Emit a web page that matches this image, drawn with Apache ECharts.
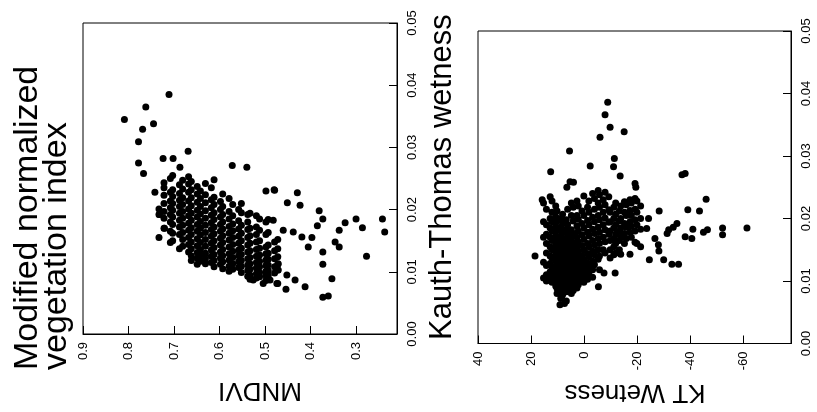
<!DOCTYPE html>
<html><head><meta charset="utf-8">
<script src="https://cdn.jsdelivr.net/npm/echarts@6/dist/echarts.min.js"></script>
<style>html,body{margin:0;padding:0;background:#fff}#c{width:817px;height:412px}</style>
</head><body><div id="c"></div>
<script>
// ---------- data ----------
const mndviTicks = [0.9, 0.8, 0.7, 0.6, 0.5, 0.4, 0.3];
const ktTicks = [40, 20, 0, -20, -40, -60];

// left plot: MNDVI columns and the rate values seen in each column
const mndviCols = [0.733,0.722,0.708,0.703,0.688,0.681,0.668,0.662,0.649,0.642,0.631,0.618,0.612,0.598,0.593,0.579,0.571,0.558,0.552,0.538,0.533,0.519,0.512,0.498,0.493,0.479,0.472];
const mndviRates = [
 [0.0192,0.0201,0.0155],
 [0.0235,0.0223,0.0210,0.0197,0.0186,0.0170,0.0243],
 [0.0228,0.0214,0.0203,0.0192,0.0180,0.0165,0.0147,0.0250],
 [0.0232,0.0221,0.0210,0.0199,0.0188,0.0176,0.0162,0.0150,0.0255],
 [0.0240,0.0226,0.0215,0.0205,0.0194,0.0183,0.0172,0.0160,0.0137],
 [0.0247,0.0233,0.0219,0.0208,0.0197,0.0186,0.0175,0.0163,0.0152,0.0141],
 [0.0253,0.0241,0.0228,0.0214,0.0201,0.0190,0.0178,0.0167,0.0155,0.0144,0.0132],
 [0.0245,0.0232,0.0219,0.0206,0.0194,0.0183,0.0171,0.0160,0.0148,0.0137,0.0126,0.0118],
 [0.0237,0.0225,0.0212,0.0199,0.0188,0.0176,0.0165,0.0153,0.0142,0.0131,0.0122,0.0112],
 [0.0230,0.0218,0.0205,0.0193,0.0181,0.0170,0.0159,0.0147,0.0136,0.0127,0.0117],
 [0.0242,0.0224,0.0211,0.0198,0.0186,0.0175,0.0163,0.0152,0.0141,0.0130,0.0121,0.0113],
 [0.0235,0.0216,0.0203,0.0191,0.0179,0.0168,0.0157,0.0146,0.0135,0.0125,0.0115],
 [0.0248,0.0220,0.0208,0.0195,0.0184,0.0172,0.0161,0.0150,0.0139,0.0128,0.0118,0.0108],
 [0.0213,0.0200,0.0188,0.0176,0.0165,0.0154,0.0143,0.0132,0.0122,0.0112],
 [0.0225,0.0205,0.0192,0.0180,0.0169,0.0158,0.0147,0.0136,0.0126,0.0116,0.0105],
 [0.0218,0.0197,0.0185,0.0173,0.0162,0.0151,0.0140,0.0129,0.0119,0.0109,0.0101],
 [0.0208,0.0190,0.0177,0.0166,0.0155,0.0144,0.0133,0.0123,0.0113,0.0104],
 [0.0200,0.0182,0.0169,0.0157,0.0146,0.0135,0.0126,0.0116,0.0107],
 [0.0210,0.0195,0.0175,0.0162,0.0150,0.0138,0.0128,0.0118,0.0109,0.0099],
 [0.0192,0.0180,0.0168,0.0155,0.0143,0.0132,0.0121,0.0111,0.0102,0.0093],
 [0.0194,0.0170,0.0158,0.0146,0.0134,0.0123,0.0113,0.0104,0.0095,0.0088],
 [0.0190,0.0172,0.0160,0.0148,0.0136,0.0125,0.0115,0.0106,0.0097,0.0090],
 [0.0185,0.0167,0.0150,0.0138,0.0127,0.0117,0.0108,0.0099,0.0092],
 [0.0180,0.0160,0.0140,0.0129,0.0119,0.0110,0.0101,0.0094,0.0086,0.0230],
 [0.0184,0.0163,0.0143,0.0130,0.0120,0.0111,0.0102,0.0094],
 [0.0148,0.0134,0.0121,0.0108,0.0098,0.0231],
 [0.0152,0.0137,0.0124,0.0112,0.0103,0.0081]
];
const mndviOutliers = [
 [0.809,0.0345],[0.711,0.0385],[0.762,0.0365],[0.745,0.0338],[0.769,0.0329],[0.778,0.0309],
 [0.778,0.0275],[0.767,0.0258],[0.742,0.0228],[0.669,0.0294],[0.724,0.0282],[0.702,0.0282],
 [0.687,0.0268],[0.572,0.0271],[0.540,0.0268],[0.732,0.0192],[0.721,0.0170],[0.480,0.0232],
 [0.429,0.0227],[0.451,0.0211],[0.423,0.0207],[0.381,0.0198],[0.373,0.0185],[0.385,0.0174],
 [0.324,0.0179],[0.300,0.0185],[0.286,0.0171],[0.242,0.0185],[0.237,0.0164],[0.277,0.0125],
 [0.337,0.0167],[0.346,0.0148],[0.337,0.0140],[0.373,0.0132],[0.373,0.0112],[0.353,0.0089],
 [0.373,0.0059],[0.361,0.0061],[0.412,0.0076],[0.434,0.0087],[0.454,0.0072],[0.474,0.0081],
 [0.452,0.0095],[0.419,0.0156],[0.397,0.0155],[0.405,0.0140],[0.438,0.0164],[0.460,0.0167],
 [0.471,0.0113],[0.471,0.0103],[0.504,0.0081],[0.526,0.0087],[0.489,0.0087],[0.482,0.0183]
];

// right plot: KT wetness columns and the rate values seen in each column
const ktCols = [15.3,14.2,12.8,12.1,10.7,10.2,8.8,8.1,6.7,6.2,4.8,4.1,2.7,2.2,0.8,0.1,-1.3,-1.8,-3.2,-3.9,-5.3,-5.8,-7.2,-7.9,-9.3,-9.8,-11.2,-11.9,-13.3,-13.8,-15.2,-15.9,-17.3,-17.8,-19.2,-19.9,-21.3];
const ktRates = [
 [0.0225,0.0195,0.0170,0.0130,0.0105],
 [0.0215,0.0190,0.0175,0.0160,0.0145,0.0125,0.0110,0.0100],
 [0.0235,0.0200,0.0185,0.0170,0.0155,0.0140,0.0128,0.0115,0.0103],
 [0.0228,0.0210,0.0195,0.0180,0.0165,0.0150,0.0137,0.0123,0.0110,0.0098],
 [0.0220,0.0203,0.0188,0.0173,0.0158,0.0145,0.0132,0.0118,0.0105,0.0092],
 [0.0212,0.0196,0.0181,0.0167,0.0153,0.0140,0.0127,0.0114,0.0101,0.0088,0.0080],
 [0.0200,0.0186,0.0172,0.0159,0.0146,0.0133,0.0120,0.0108,0.0096,0.0085,0.0072],
 [0.0207,0.0192,0.0178,0.0164,0.0151,0.0138,0.0125,0.0113,0.0101,0.0090,0.0078],
 [0.0198,0.0183,0.0169,0.0156,0.0143,0.0130,0.0118,0.0106,0.0094,0.0083,0.0068],
 [0.0215,0.0190,0.0175,0.0162,0.0149,0.0136,0.0123,0.0111,0.0099,0.0088],
 [0.0225,0.0205,0.0182,0.0168,0.0155,0.0142,0.0129,0.0116,0.0104,0.0092,0.0080],
 [0.0218,0.0196,0.0176,0.0161,0.0147,0.0134,0.0121,0.0109,0.0097,0.0085],
 [0.0228,0.0205,0.0188,0.0170,0.0154,0.0140,0.0126,0.0113,0.0101,0.0089],
 [0.0220,0.0199,0.0180,0.0163,0.0148,0.0133,0.0119,0.0106,0.0094],
 [0.0212,0.0192,0.0174,0.0157,0.0141,0.0127,0.0114,0.0102],
 [0.0236,0.0205,0.0185,0.0167,0.0150,0.0135,0.0121,0.0109,0.0098],
 [0.0218,0.0197,0.0178,0.0160,0.0144,0.0129,0.0115,0.0103],
 [0.0228,0.0210,0.0190,0.0172,0.0155,0.0139,0.0124,0.0110],
 [0.0240,0.0202,0.0183,0.0165,0.0148,0.0132,0.0118,0.0106],
 [0.0232,0.0215,0.0195,0.0176,0.0158,0.0142,0.0126],
 [0.0245,0.0225,0.0205,0.0186,0.0168,0.0150,0.0135],
 [0.0238,0.0218,0.0198,0.0178,0.0160,0.0140,0.0118],
 [0.0230,0.0210,0.0190,0.0170,0.0150],
 [0.0242,0.0222,0.0201,0.0182,0.0163,0.0145],
 [0.0235,0.0214,0.0194,0.0175],
 [0.0210,0.0195,0.0180,0.0165,0.0150,0.0137],
 [0.0218,0.0200,0.0185,0.0168,0.0155,0.0142],
 [0.0225,0.0207,0.0190,0.0175,0.0160,0.0145],
 [0.0212,0.0196,0.0180,0.0165,0.0150],
 [0.0220,0.0200,0.0185,0.0170,0.0143],
 [0.0227,0.0210,0.0192,0.0176,0.0160],
 [0.0222,0.0205,0.0186,0.0168],
 [0.0230,0.0213,0.0195,0.0178,0.0143],
 [0.0225,0.0205,0.0188,0.0170],
 [0.0232,0.0215,0.0198,0.0180,0.0162],
 [0.0228,0.0210,0.0190,0.0160],
 [0.0220,0.0200,0.0183,0.0155]
];
const ktOutliers = [
 [-8.9,0.0386],[-7.9,0.0366],[-9.8,0.0346],[-15.1,0.0339],[-6.0,0.0330],[5.5,0.0308],
 [-11.4,0.0296],[-2.3,0.0284],[-11.1,0.0283],[-13.6,0.0268],[12.6,0.0275],[-36.9,0.0270],
 [-38.1,0.0272],[5.3,0.0259],[4.0,0.0258],[6.5,0.0250],[-19.2,0.0256],[-19.5,0.0250],
 [-46.0,0.0231],[-43.5,0.0212],[15.8,0.0230],[-61.4,0.0185],[-52.2,0.0185],[-52.2,0.0174],
 [-46.5,0.0182],[-45.0,0.0178],[-41.0,0.0183],[-40.6,0.0168],[-38.1,0.0171],[-39.1,0.0214],
 [-35.0,0.0192],[-33.6,0.0186],[-31.9,0.0182],[-31.3,0.0176],[-28.3,0.0212],[-24.3,0.0200],
 [-23.6,0.0184],[-26.7,0.0168],[-28.0,0.0158],[-28.2,0.0148],[-30.0,0.0134],[-33.1,0.0127],
 [-35.6,0.0127],[-24.6,0.0134],[-5.4,0.0091],[-11.7,0.0113],[-7.5,0.0113],[18.5,0.0140],
 [9.1,0.0062],[7.4,0.0064],[8.5,0.0075]
];

// ---------- build ----------
function points(cols, rates, extra) {
  const out = [];
  cols.forEach((c, i) => rates[i].forEach(v => out.push([c, v])));
  return out.concat(extra);
}
const leftData = points(mndviCols, mndviRates, mndviOutliers);
const rightData = points(ktCols, ktRates, ktOutliers);

const FONT = 'Liberation Sans, Arial, sans-serif';
const black = '#000';

function xAxisCfg(gridIndex, min, max, ticks) {
  return {
    type: 'value', gridIndex, min, max, inverse: true,
    axisLine: { show: true, onZero: false, lineStyle: { color: black, width: 1 } },
    axisTick: { show: true, inside: true, length: 8, lineStyle: { color: black }, customValues: ticks },
    axisLabel: { show: true, rotate: 90, margin: 8, color: black, fontSize: 13, fontFamily: FONT, customValues: ticks,
      formatter: v => String(v) },
    splitLine: { show: false }
  };
}
function yAxisCfg(gridIndex) {
  return {
    type: 'value', gridIndex, min: 0, max: 0.05, interval: 0.01, position: 'right',
    axisLine: { show: true, onZero: false, lineStyle: { color: black, width: 1 } },
    axisTick: { show: true, inside: true, length: 8, lineStyle: { color: black } },
    axisLabel: { show: true, rotate: 90, margin: 9, color: black, fontSize: 13, fontFamily: FONT,
      formatter: v => v.toFixed(2) },
    splitLine: { show: false }
  };
}

const chart = echarts.init(document.getElementById('c'), null, { renderer: 'canvas' });
chart.setOption({
  backgroundColor: '#fff',
  animation: false,
  grid: [
    { left: 83, top: 23, width: 314, height: 311, show: true, borderColor: black, borderWidth: 1, backgroundColor: 'transparent' },
    { left: 478, top: 31, width: 313, height: 312.5, show: true, borderColor: black, borderWidth: 1, backgroundColor: 'transparent' }
  ],
  xAxis: [
    xAxisCfg(0, 0.21, 0.9, mndviTicks),
    xAxisCfg(1, -78, 40, ktTicks)
  ],
  yAxis: [ yAxisCfg(0), yAxisCfg(1) ],
  series: [
    { type: 'scatter', xAxisIndex: 0, yAxisIndex: 0, data: leftData, symbol: 'circle', symbolSize: 7, itemStyle: { color: black, opacity: 1 } },
    { type: 'scatter', xAxisIndex: 1, yAxisIndex: 1, data: rightData, symbol: 'circle', symbolSize: 7, itemStyle: { color: black, opacity: 1 } }
  ],
  graphic: [
    { type: 'text', x: 45, y: 370, rotation: Math.PI / 2, style: { text: 'Modified normalized', font: '34px ' + FONT, fill: black, textAlign: 'left', textVerticalAlign: 'bottom' } },
    { type: 'text', x: 74, y: 370, rotation: Math.PI / 2, style: { text: 'vegetation index', font: '34px ' + FONT, fill: black, textAlign: 'left', textVerticalAlign: 'bottom' } },
    { type: 'text', x: 458, y: 340, rotation: Math.PI / 2, style: { text: 'Kauth-Thomas wetness', font: '31px ' + FONT, fill: black, textAlign: 'left', textVerticalAlign: 'bottom' } },
    { type: 'text', x: 260, y: 390, rotation: Math.PI, style: { text: 'MNDVI', font: '26px ' + FONT, fill: black, textAlign: 'center', textVerticalAlign: 'middle' } },
    { type: 'text', x: 635, y: 392, rotation: Math.PI, style: { text: 'KT Wetness', font: '26px ' + FONT, fill: black, textAlign: 'center', textVerticalAlign: 'middle' } }
  ]
});
</script>
</body></html>
